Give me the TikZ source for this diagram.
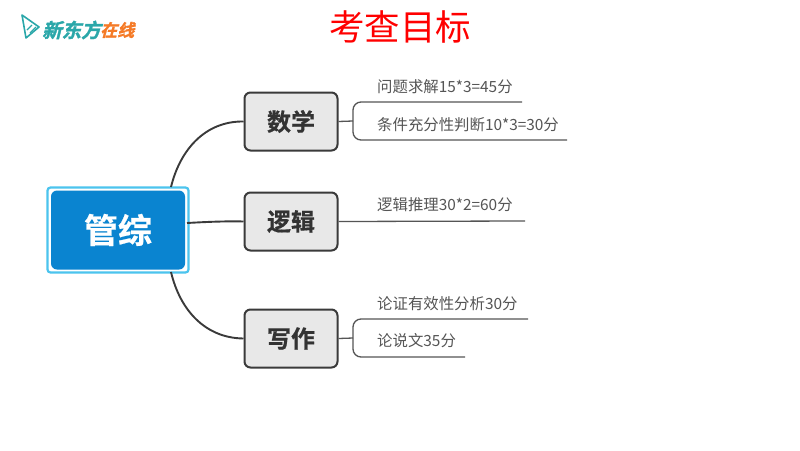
\documentclass[tikz,border=0pt]{standalone}
\usepackage{fontspec}
\setmainfont{Noto Sans CJK SC}
\newfontfamily\cjkb[FakeBold=0.6]{Noto Sans CJK SC Bold}
\newfontfamily\cjklogo[FakeSlant=0.25,FakeBold=1.5]{Noto Sans CJK SC Bold}
\definecolor{mainblue}{HTML}{0A84D0}
\definecolor{halo}{HTML}{4CC4EE}
\definecolor{boxgray}{HTML}{E8E8E8}
\definecolor{edgegray}{HTML}{3A3A3A}
\definecolor{leafgray}{HTML}{555555}
\definecolor{logoteal}{HTML}{2AA7A9}
\definecolor{logoorange}{HTML}{F57A26}
\tikzset{
  x=1pt,y=-1pt,
  topicbox/.style={draw=edgegray,line width=2pt,fill=boxgray,rounded corners=6pt,minimum width=93pt,minimum height=58pt,inner sep=0pt,font=\fontsize{24}{24}\selectfont\cjkb,text=black!80},
  leaf/.style={anchor=west,inner sep=0pt,text=leafgray,font=\fontsize{15.4}{15.4}\selectfont},
  branch/.style={draw=edgegray,line width=1.9pt},
  subline/.style={draw=leafgray,line width=1.3pt},
}
\begin{document}
\begin{tikzpicture}
\useasboundingbox (0,0) rectangle (800,450);
\fill[white] (0,0) rectangle (800,450);
% title
\node[text=red,font=\fontsize{35.5}{35.5}\selectfont] (title) at (400,27) {考查目标};
% logo
\draw[logoteal,line width=1.6pt,line join=round] (22,15) -- (39,27) -- (26,38) -- cycle;
\draw[logoteal,line width=1.2pt] (30,33) -- (36,27) (27,30) -- (32,25);
\node[anchor=west,inner sep=0pt,text=logoteal,font=\fontsize{19.5}{19.5}\selectfont\cjklogo] (logoa) at (42,30) {新东方};
\node[anchor=west,inner sep=0pt,text=logoorange,font=\fontsize{17}{17}\selectfont\cjklogo] (logob) at (100,30) {在线};
% main node
\node[draw=halo,line width=2.2pt,rounded corners=3pt,minimum width=141pt,minimum height=85pt] (halo) at (118,230) {};
\node[fill=mainblue,rounded corners=6pt,minimum width=134pt,minimum height=79pt,inner sep=0pt,text=white,font=\fontsize{34}{34}\selectfont\cjkb] (main) at (118,230) {管综};
% topics
\node[topicbox] (math) at (291,121.5) {数学};
\node[topicbox] (logic) at (291,221.5) {逻辑};
\node[topicbox] (write) at (291,338.5) {写作};
% main connectors
\coordinate (mt) at (171,187);
\coordinate (mb) at (171,272);
\coordinate (mr) at (187,223);
\draw[branch] (mt) .. controls (180,150) and (205,121) .. (math.west);
\draw[branch] (mr) .. controls (205,222) and (225,221) .. (logic.west);
\draw[branch] (mb) .. controls (180,310) and (205,338) .. (write.west);
% leaves
\node[leaf] (l1) at (377,87) {问题求解15*3=45分};
\node[leaf] (l2) at (377,125) {条件充分性判断10*3=30分};
\node[leaf] (l3) at (377,205) {逻辑推理30*2=60分};
\node[leaf] (l4) at (377,304) {论证有效性分析30分};
\node[leaf] (l5) at (377,341) {论说文35分};
\coordinate (e1) at (522,102);
\coordinate (e2) at (567,140);
\coordinate (e3) at (525,221);
\coordinate (e4) at (528,319);
\coordinate (e5) at (465,357);
\coordinate (b1) at (353,121);
\coordinate (b2) at (353,338);
\coordinate (c1) at (353,102);
\coordinate (c2) at (353,140);
\coordinate (c3) at (353,319);
\coordinate (c4) at (353,357);
\draw[subline] (math.east) -- (b1);
\draw[subline,rounded corners=8pt] (e1) -- (c1) -- (c2) -- (e2);
\draw[subline] (logic.east) -- (e3);
\draw[subline] (write.east) -- (b2);
\draw[subline,rounded corners=8pt] (e4) -- (c3) -- (c4) -- (e5);
\end{tikzpicture}
\end{document}
